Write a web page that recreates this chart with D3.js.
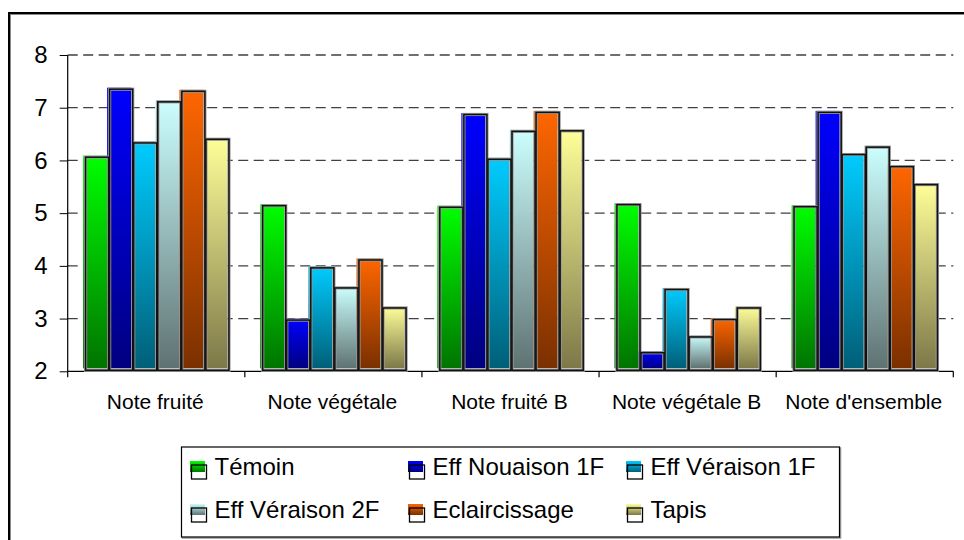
<!DOCTYPE html>
<html>
<head>
<meta charset="utf-8">
<script src="https://cdn.jsdelivr.net/npm/d3@7"></script>
<style>
  html, body { margin: 0; padding: 0; background: #fff; }
  svg { display: block; font-family: "Liberation Sans", Arial, sans-serif; }
</style>
</head>
<body>
<svg id="chart" width="964" height="540"></svg>
<script>
const categories = ["Note fruité", "Note végétale", "Note fruité B", "Note végétale B", "Note d'ensemble"];
const seriesNames = ["Témoin", "Eff Nouaison 1F", "Eff Véraison 1F", "Eff Véraison 2F", "Eclaircissage", "Tapis"];
const temoin        = [6.09, 5.17, 5.14, 5.19, 5.15];
const effNouaison1F = [7.38, 3.00, 6.90, 2.38, 6.94];
const effVeraison1F = [6.36, 3.99, 6.05, 3.58, 6.14];
const effVeraison2F = [7.14, 3.61, 6.58, 2.68, 6.28];
const eclaircissage = [7.34, 4.14, 6.94, 3.01, 5.91];
const tapis         = [6.43, 3.23, 6.59, 3.23, 5.57];
const yTicks = [2, 3, 4, 5, 6, 7, 8];

const seriesValues = [temoin, effNouaison1F, effVeraison1F, effVeraison2F, eclaircissage, tapis];
const topColors    = ["#00ff00", "#0000ff", "#00ccff", "#ccffff", "#ff6600", "#ffff99"];
const bottomColors = ["#007400", "#000080", "#005f78", "#5f7272", "#7a3000", "#7d7848"];

const svg = d3.select("#chart");
const defs = svg.append("defs");
seriesNames.forEach((n, i) => {
  const g = defs.append("linearGradient").attr("id", "grad" + i)
    .attr("x1", 0).attr("y1", 0).attr("x2", 0).attr("y2", 1);
  g.append("stop").attr("offset", "0%").attr("stop-color", topColors[i]);
  g.append("stop").attr("offset", "100%").attr("stop-color", bottomColors[i]);
});

// outer chart border
svg.append("rect").attr("x", 10).attr("y", 14).attr("width", 1000).attr("height", 600)
  .attr("fill", "none").attr("stroke", "#888").attr("stroke-width", 2);
svg.append("rect").attr("x", 9).attr("y", 13).attr("width", 1000).attr("height", 600)
  .attr("fill", "none").attr("stroke", "#000").attr("stroke-width", 2);

const x0 = 67.7, x1 = 953.3;
const y = d3.scaleLinear().domain([2, 8]).range([371.3, 55]);
const xCat = d3.scaleBand().domain(categories).range([x0, x1]).paddingInner(0).paddingOuter(0);
const groupW = 144.4;
const xSer = d3.scaleBand().domain(seriesNames).range([0, groupW]);

// gridlines
svg.append("g").selectAll("line").data(yTicks.filter(t => t > 2)).join("line")
  .attr("x1", x0).attr("x2", x1)
  .attr("y1", d => y(d)).attr("y2", d => y(d))
  .attr("stroke", "#404040").attr("stroke-width", 1.3)
  .attr("stroke-dasharray", "10,5.5");

// y axis
const yAxis = d3.axisLeft(y).tickValues(yTicks).tickSize(8).tickPadding(12).tickFormat(d3.format("d"));
const gy = svg.append("g").attr("transform", `translate(${x0},0)`).call(yAxis);
gy.select(".domain").remove();
gy.selectAll(".tick line").attr("stroke", "#000").attr("stroke-width", 1);
gy.selectAll(".tick text").attr("font-size", 24).attr("fill", "#000")
  .attr("font-family", "Liberation Sans, Arial, sans-serif");
svg.append("line").attr("x1", x0).attr("x2", x0).attr("y1", y(8)).attr("y2", y(2) + 6)
  .attr("stroke", "#000").attr("stroke-width", 1.2);

// x axis baseline and ticks at category boundaries
svg.append("line").attr("x1", x0).attr("x2", x1).attr("y1", y(2)).attr("y2", y(2))
  .attr("stroke", "#000").attr("stroke-width", 1.2);
svg.append("g").selectAll("line").data(categories).join("line")
  .attr("x1", d => xCat(d) + xCat.bandwidth()).attr("x2", d => xCat(d) + xCat.bandwidth())
  .attr("y1", y(2)).attr("y2", y(2) + 6)
  .attr("stroke", "#000").attr("stroke-width", 1.2);

// category labels
svg.append("g").selectAll("text").data(categories).join("text")
  .attr("x", d => xCat(d) + xCat.bandwidth() / 2 - 1)
  .attr("y", 409)
  .attr("text-anchor", "middle").attr("font-size", 21).attr("fill", "#000")
  .text(d => d);

// bars
const bars = [];
categories.forEach((c, ci) => {
  seriesNames.forEach((s, si) => {
    bars.push({ c, s, si, v: seriesValues[si][ci] });
  });
});
const gBars = svg.append("g");
const bx = d => xCat(d.c) + (xCat.bandwidth() - groupW) / 2 - 1 + xSer(d.s);
gBars.selectAll("rect.fill").data(bars).join("rect").attr("class", "fill")
  .attr("x", bx).attr("y", d => y(d.v))
  .attr("width", xSer.bandwidth()).attr("height", d => y(2) - 3 - y(d.v))
  .attr("fill", d => `url(#grad${d.si})`);
gBars.selectAll("rect.halo").data(bars).join("rect").attr("class", "halo")
  .attr("x", d => bx(d) + 2.5).attr("y", d => y(d.v) + 1.5)
  .attr("width", xSer.bandwidth() - 1).attr("height", d => y(2) - 2.5 - y(d.v))
  .attr("fill", "none").attr("stroke", "#9a9a9a").attr("stroke-width", 3.2);
gBars.selectAll("rect.out").data(bars).join("rect").attr("class", "out")
  .attr("x", d => bx(d) + 2.5).attr("y", d => y(d.v) + 1.5)
  .attr("width", xSer.bandwidth() - 1).attr("height", d => y(2) - 2.5 - y(d.v))
  .attr("fill", "none").attr("stroke", "#111").attr("stroke-width", 1.5);

// legend
const lg = svg.append("g");
lg.append("rect").attr("x", 182.5).attr("y", 448).attr("width", 658).attr("height", 90)
  .attr("fill", "none").attr("stroke", "#999").attr("stroke-width", 1.5);
lg.append("rect").attr("x", 181.5).attr("y", 447).attr("width", 658).attr("height", 90)
  .attr("fill", "#fff").attr("stroke", "#000").attr("stroke-width", 1.2);
const colX = [190, 408, 626];
const rowY = [475, 518];
const items = lg.selectAll("g.item").data(seriesNames).join("g").attr("class", "item")
  .attr("transform", (d, i) => `translate(${colX[i % 3]},${rowY[Math.floor(i / 3)]})`);
items.append("rect").attr("x", 0).attr("y", -14).attr("width", 15).attr("height", 11)
  .attr("fill", (d, i) => `url(#grad${i})`);
items.append("rect").attr("x", 1.5).attr("y", -10).attr("width", 15).attr("height", 14)
  .attr("fill", "none").attr("stroke", "#000").attr("stroke-width", 1.3);
items.append("text").attr("x", 24.5).attr("y", 0).attr("font-size", 24).attr("fill", "#000")
  .text(d => d);
</script>
</body>
</html>
